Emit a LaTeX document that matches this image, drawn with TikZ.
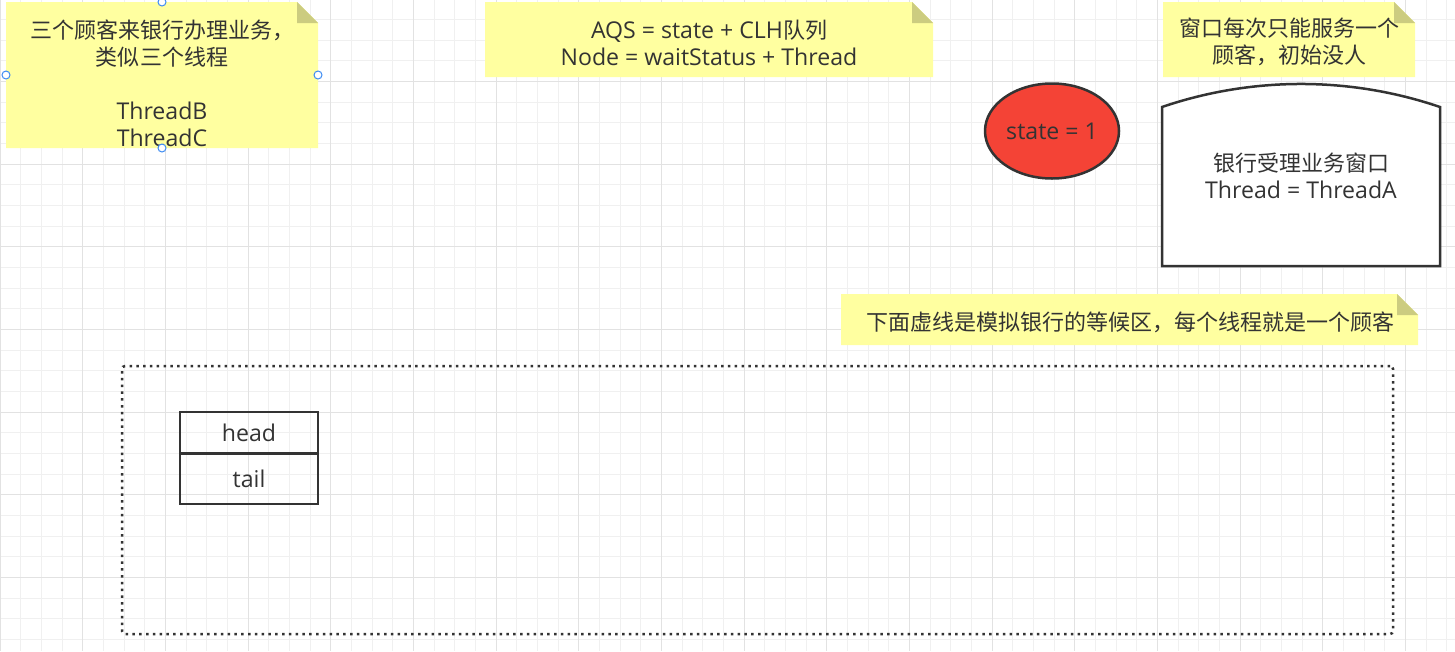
\documentclass[tikz,border=0pt]{standalone}
\usepackage{fontspec}
\setmainfont[Scale=1.05]{Open Sans}
\newfontfamily\cjk{Noto Sans CJK SC}
\usetikzlibrary{shapes.geometric,calc}
\definecolor{textc}{HTML}{333333}
\definecolor{notefill}{HTML}{FFFFA0}
\definecolor{foldfill}{HTML}{CCCC80}
\definecolor{redfill}{HTML}{F44336}
\definecolor{gridminor}{HTML}{F0F0F0}
\definecolor{gridmajor}{HTML}{E2E2E2}
\definecolor{handleblue}{HTML}{3D8BF2}
\newcommand\notebg[1]{%
  \fill[notefill] (#1.south west) -- (#1.north west) -- ([xshift=-21pt]#1.north east) -- ([yshift=-21pt]#1.north east) -- (#1.south east) -- cycle;
  \fill[foldfill] ([xshift=-21pt]#1.north east) -- ([xshift=-21pt,yshift=-21pt]#1.north east) -- ([yshift=-21pt]#1.north east) -- cycle;}
\begin{document}
\begin{tikzpicture}[x=1pt,y=-1pt,
  notebox/.style={inner sep=0pt,outer sep=0pt},
  txt/.style={font=\fontsize{22}{27}\selectfont,text=textc,align=center,inner sep=0pt},
  shapeline/.style={draw=textc,line width=2.5pt},
  cell/.style={shapeline,rectangle,minimum width=138pt,inner sep=0pt,outer sep=0pt,font=\fontsize{22}{27}\selectfont,text=textc},
  handle/.style={circle,draw=handleblue,fill=white,line width=1pt,minimum size=8pt,inner sep=0pt},
  dotbox/.style={draw=textc,line width=2.5pt,dash pattern=on 2.5pt off 4.3pt,rounded corners=3pt,minimum width=1271pt,minimum height=268pt,inner sep=0pt}]
\useasboundingbox (0,0) rectangle (1455,651);
\fill[white] (0,0) rectangle (1455,651);
% grid
\foreach \k in {0,...,70} \draw[gridminor,line width=1pt] ({\k*20.667},0) -- ({\k*20.667},651);
\foreach \k in {1,...,31} \draw[gridminor,line width=1pt] (0,{\k*20.667-1.3}) -- (1455,{\k*20.667-1.3});
\foreach \k in {0,...,17} \draw[gridmajor,line width=1pt] ({\k*82.667},0) -- ({\k*82.667},651);
\foreach \k in {1,...,7} \draw[gridmajor,line width=1pt] (0,{\k*82.667-1.3}) -- (1455,{\k*82.667-1.3});

% notes
\node[notebox,minimum width=312pt,minimum height=146pt] (n1) at (162,75) {};
\notebg{n1}
\node[txt] (t1) at (162,83) {{\cjk 三个顾客来银行办理业务，}\\{\cjk 类似三个线程}\\\mbox{}\\ThreadB\\ThreadC};

\node[notebox,minimum width=448pt,minimum height=75pt] (n2) at (709,39.5) {};
\notebg{n2}
\node[txt] (t2) at (709,43) {AQS = state + CLH{\cjk 队列}\\Node = waitStatus + Thread};

\node[notebox,minimum width=252pt,minimum height=75pt] (n3) at (1289,39.5) {};
\notebg{n3}
\node[txt] (t3) at (1289,41.5) {{\cjk 窗口每次只能服务一个}\\{\cjk 顾客，初始没人}};

\node[notebox,minimum width=577pt,minimum height=51pt] (n4) at (1129.5,319.5) {};
\notebg{n4}
\node[txt] (t4) at (1130,322) {{\cjk 下面虚线是模拟银行的等候区，每个线程就是一个顾客}};

% selection handles
\node[handle] (h1) at (n1.west) {};
\node[handle] (h2) at (n1.east) {};
\node[handle] (h3) at (n1.north) {};
\node[handle] (h4) at (n1.south) {};

% state ellipse
\node[shapeline,ellipse,fill=redfill,minimum width=134pt,minimum height=95pt,inner sep=0pt,txt] (st) at (1052,131) {state = 1};

% window
\node[notebox,minimum width=278pt,minimum height=182pt] (win) at (1301,175) {};
\filldraw[shapeline,fill=white,line join=miter] (win.south west) -- ($(win.north west)+(0,23)$)
  .. controls ($(win.north west)+(90.1,-7.7)$) and ($(win.north east)+(-90.1,-7.7)$) .. ($(win.north east)+(0,23)$)
  -- (win.south east) -- cycle;
\node[txt] (wt) at (1301,176) {{\cjk 银行受理业务窗口}\\Thread = ThreadA};

% waiting area
\node[dotbox] (wq) at (757.5,500) {};
\node[cell,minimum height=41.5pt] (head) at (249,432.75) {head};
\node[cell,minimum height=50.5pt,anchor=north] (tail) at (head.south) {tail};
\end{tikzpicture}
\end{document}
